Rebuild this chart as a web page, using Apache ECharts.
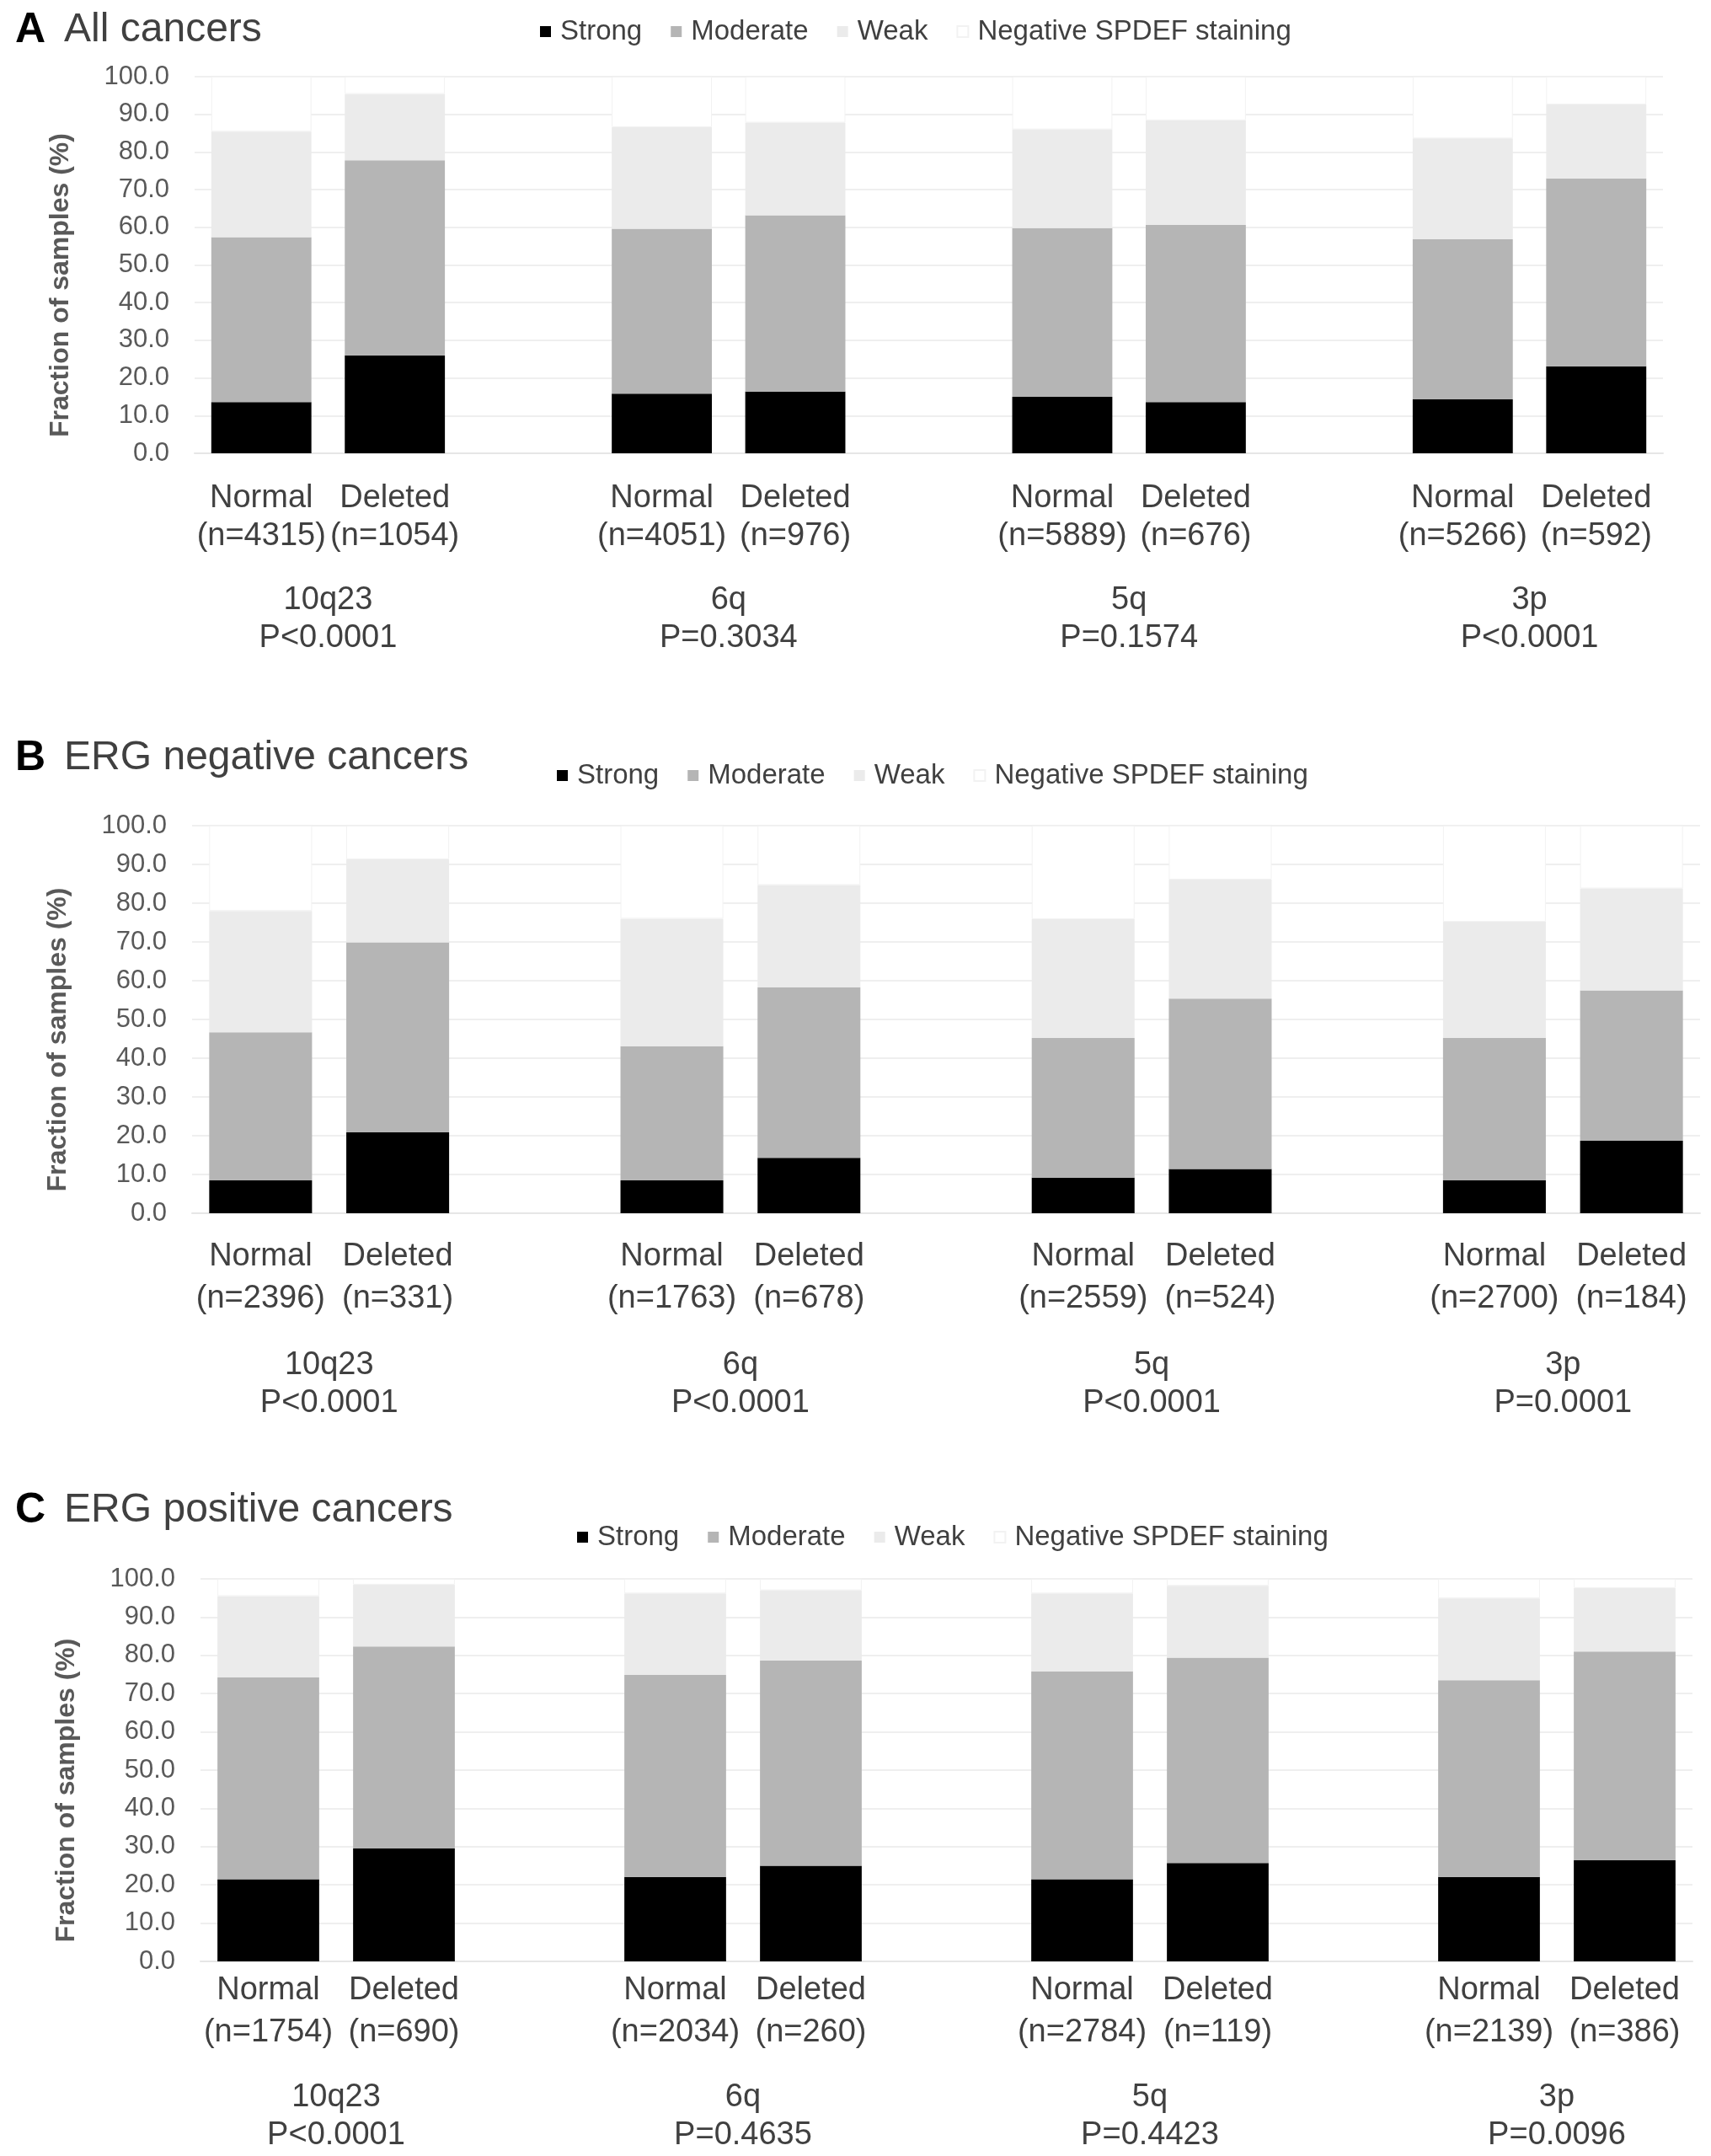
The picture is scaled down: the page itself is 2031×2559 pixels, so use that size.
<!DOCTYPE html>
<html>
<head>
<meta charset="utf-8">
<title>SPDEF staining by deletion</title>
<script src="https://cdn.jsdelivr.net/npm/echarts@6.0.0/dist/echarts.min.js"></script>
<style>
  html, body { margin: 0; padding: 0; background: #fff; }
  #chart { width: 2031px; height: 2559px; }
</style>
</head>
<body>
<div id="chart"></div>
<script>
// categories
var loci = ['10q23', '6q', '5q', '3p'];
var statusLabels = ['Normal', 'Deleted'];
var seriesNames = ['Strong', 'Moderate', 'Weak', 'Negative SPDEF staining'];
var yTicks = [0, 10, 20, 30, 40, 50, 60, 70, 80, 90, 100];

// A - all cancers (Normal/Deleted per locus)
var strongA   = [13.6, 26.0, 15.8, 16.4, 15.0, 13.6, 14.3, 23.1];
var moderateA = [43.8, 51.8, 43.8, 46.8, 44.8, 47.0, 42.5, 49.9];
var weakA     = [28.0, 17.6, 27.0, 24.6, 26.2, 27.8, 26.8, 19.6];
var negativeA = [14.6,  4.6, 13.4, 12.2, 14.0, 11.6, 16.4,  7.4];
var nA = ['4315', '1054', '4051', '976', '5889', '676', '5266', '592'];
var pA = ['P<0.0001', 'P=0.3034', 'P=0.1574', 'P<0.0001'];

// B - ERG negative
var strongB   = [ 8.5, 20.9,  8.5, 14.3,  9.2, 11.4,  8.5, 18.7];
var moderateB = [38.2, 49.0, 34.6, 44.0, 36.0, 44.0, 36.7, 38.8];
var weakB     = [31.3, 21.4, 32.9, 26.4, 30.7, 30.7, 30.0, 26.3];
var negativeB = [22.0,  8.7, 24.0, 15.3, 24.1, 13.9, 24.8, 16.2];
var nB = ['2396', '331', '1763', '678', '2559', '524', '2700', '184'];
var pB = ['P<0.0001', 'P<0.0001', 'P<0.0001', 'P=0.0001'];

// C - ERG positive
var strongC   = [21.5, 29.5, 22.1, 25.0, 21.5, 25.7, 22.1, 26.5];
var moderateC = [52.8, 52.8, 52.8, 53.7, 54.3, 53.7, 51.4, 54.5];
var weakC     = [21.2, 16.2, 21.3, 18.3, 20.4, 18.8, 21.4, 16.6];
var negativeC = [ 4.5,  1.5,  3.8,  3.0,  3.8,  1.8,  5.1,  2.4];
var nC = ['1754', '690', '2034', '260', '2784', '119', '2139', '386'];
var pC = ['P<0.0001', 'P=0.4635', 'P=0.4423', 'P=0.0096'];

var colors = ['#000000', '#b5b5b5', '#ebebeb', '#ffffff'];
var font = '"Liberation Sans", Arial, sans-serif';

// 8 bars -> 11 slots (empty slot between loci)
function spread(vals, blank) {
  var out = [];
  vals.forEach(function (v, i) {
    out.push(v);
    if (i % 2 === 1 && i < vals.length - 1) out.push(blank);
  });
  return out;
}

// group axis uses boundaryGap:false, 12 ticks; locus labels sit between Normal and Deleted
function groupLabels(p) {
  var out = [];
  for (var i = 0; i < 12; i++) out.push('');
  loci.forEach(function (l, g) { out[1 + g * 3] = l + '\n' + p[g]; });
  return out;
}

var panels = [
  { letter: 'A', title: 'All cancers', titleTop: 6,
    grid: { left: 231, right: 57, top: 91, height: 447 },
    legend: { left: 636, top: 16 },
    data: [strongA, moderateA, weakA, negativeA], n: nA, p: pA,
    labelMargin: 31, lineH: 45, groupMargin: 152 },
  { letter: 'B', title: 'ERG negative cancers', titleTop: 870,
    grid: { left: 228, right: 13, top: 980, height: 460 },
    legend: { left: 656, top: 899 },
    data: [strongB, moderateB, weakB, negativeB], n: nB, p: pB,
    labelMargin: 27, lineH: 50, groupMargin: 158 },
  { letter: 'C', title: 'ERG positive cancers', titleTop: 1763,
    grid: { left: 238, right: 22, top: 1874, height: 454 },
    legend: { left: 680, top: 1803 },
    data: [strongC, moderateC, weakC, negativeC], n: nC, p: pC,
    labelMargin: 10, lineH: 50, groupMargin: 139 }
];

var option = {
  animation: false,
  backgroundColor: '#ffffff',
  textStyle: { fontFamily: font },
  title: [], legend: [], grid: [], xAxis: [], yAxis: [], series: []
};

panels.forEach(function (pn, k) {
  var cats = spread(pn.n.map(function (n, i) {
    return statusLabels[i % 2] + '\n(n=' + n + ')';
  }), '');

  option.title.push({
    left: 13, top: pn.titleTop,
    text: '{l|' + pn.letter + '}{t|' + pn.title + '}',
    textStyle: {
      fontWeight: 'normal',
      rich: {
        l: { fontFamily: font, fontSize: 50, fontWeight: 'bold', color: '#000', padding: [0, 22, 0, 0] },
        t: { fontFamily: font, fontSize: 48, fontWeight: 'normal', color: '#404040' }
      }
    }
  });

  option.legend.push({
    left: pn.legend.left, top: pn.legend.top,
    data: seriesNames,
    icon: 'rect', itemWidth: 13, itemHeight: 13, itemGap: 34,
    selectedMode: false,
    textStyle: { fontFamily: font, fontSize: 33, color: '#404040', padding: [0, 0, 0, 6] }
  });

  option.grid.push(pn.grid);

  option.xAxis.push({
    type: 'category', gridIndex: k, data: cats,
    axisTick: { show: false },
    axisLine: { lineStyle: { color: '#e6e6e6', width: 2 } },
    axisLabel: {
      interval: 0, margin: pn.labelMargin, fontSize: 38, lineHeight: pn.lineH,
      color: '#404040', fontFamily: font
    }
  });
  option.xAxis.push({
    type: 'category', gridIndex: k, position: 'bottom', boundaryGap: false,
    data: groupLabels(pn.p),
    axisTick: { show: false }, axisLine: { show: false }, splitLine: { show: false },
    axisLabel: {
      interval: 0, margin: pn.groupMargin, fontSize: 38, lineHeight: 45,
      color: '#404040', fontFamily: font
    }
  });

  option.yAxis.push({
    type: 'value', gridIndex: k,
    min: yTicks[0], max: yTicks[yTicks.length - 1], interval: 10,
    name: 'Fraction of samples (%)', nameLocation: 'middle', nameGap: 143,
    nameTextStyle: { fontFamily: font, fontSize: 32, fontWeight: 'bold', color: '#595959', padding: [0, 48, 0, 0] },
    axisLine: { show: false }, axisTick: { show: false },
    axisLabel: {
      margin: 30, fontSize: 31, color: '#595959', fontFamily: font,
      formatter: function (v) { return v.toFixed(1); }
    },
    splitLine: { lineStyle: { color: '#efefef', width: 2 } }
  });

  seriesNames.forEach(function (name, s) {
    option.series.push({
      name: name, type: 'bar', stack: 'p' + k,
      xAxisIndex: k * 2, yAxisIndex: k,
      barWidth: '75%',
      itemStyle: s === 3
        ? { color: colors[s], borderColor: '#f2f2f2', borderWidth: 1 }
        : { color: colors[s] },
      data: spread(pn.data[s], '-')
    });
  });
});

echarts.init(document.getElementById('chart')).setOption(option);
</script>
</body>
</html>
